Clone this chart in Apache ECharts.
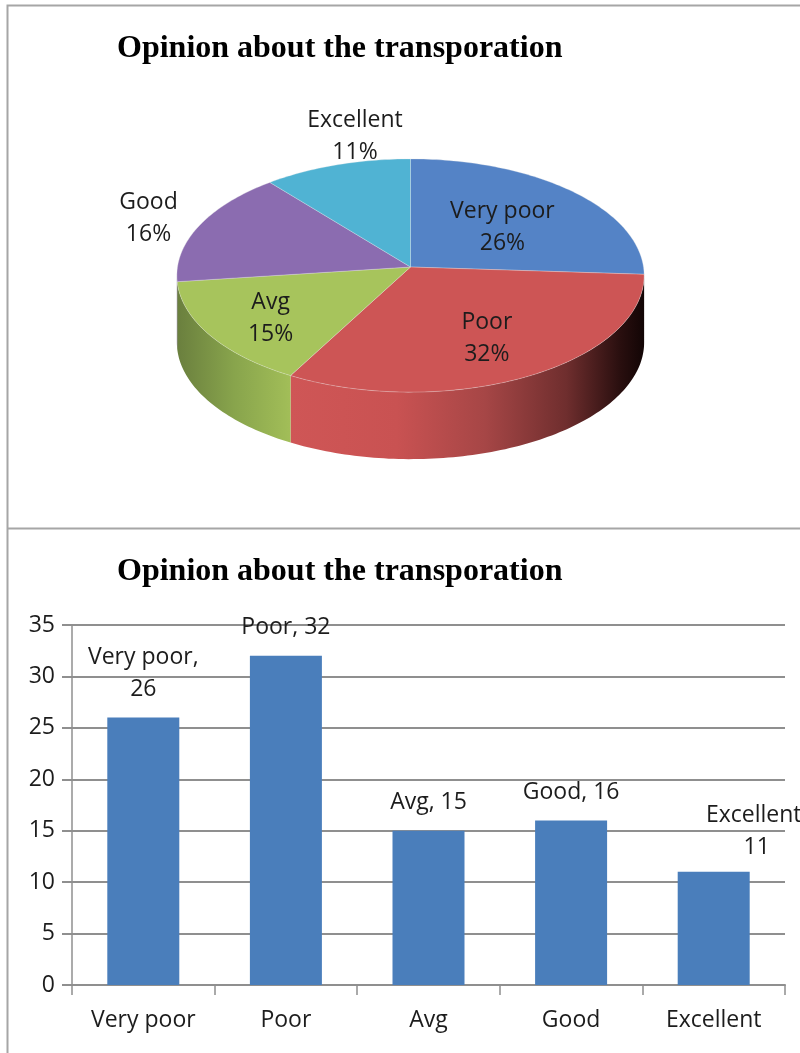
<!DOCTYPE html>
<html><head><meta charset="utf-8">
<style>html,body{margin:0;padding:0;background:#fff}#c{width:800px;height:1053px}</style>
<script src="https://cdn.jsdelivr.net/npm/echarts@6/dist/echarts.min.js"></script>
</head><body><div id="c"></div>
<script>
const titleText = 'Opinion about the transporation';
const categories = ['Very poor','Poor','Avg','Good','Excellent'];
const values = [26,32,15,16,11];
const yTicksMax = 35;
const yTickStep = 5;

const FONT = '"Open Sans"';
const TEXT = '#1c1c1c';
const topColors = ['#5483c6','#cd5555','#a7c45c','#8b6cb0','#50b3d3'];
const wallStops = [
  [[0,'#3a5a8a'],[1,'#3a5a8a']],
  [[0,'#cf5656'],[0.3,'#c95252'],[0.55,'#a64646'],[0.78,'#6f2e2e'],[0.93,'#2a0f0f'],[1,'#120505']],
  [[0,'#6a7f3e'],[0.5,'#88a44c'],[1,'#a2be58']],
  [[0,'#5a4672'],[1,'#5a4672']],
  [[0,'#357a90'],[1,'#357a90']]
];
const labelRadius = [0.55,0.66,0.70,1.24,1.20];
const labelNudge = [[1,3],[-1,1.5],[-1,4],[-2,3],[32,-10]];
const CX=410.5, CY=267, RX=233, RY=116, K=0.073, DEPTH=67;
const total = values.reduce((a,b)=>a+b,0);

function project(theta, r){
  const u=Math.sin(theta)*r, v=-Math.cos(theta)*r, d=1-K*v;
  return [CX+RX*u/d, CY+RY*v/d];
}
function arcPoints(a0,a1){
  const pts=[], n=Math.max(2,Math.ceil(Math.abs(a1-a0)/0.02));
  for(let i=0;i<=n;i++) pts.push(project(a0+(a1-a0)*i/n,1));
  return pts;
}
const LEFT_S=Math.PI+Math.acos(K), RIGHT_S=Math.PI-Math.acos(K);

function renderSlice(params, api){
  const i=params.dataIndex, val=api.value(1);
  let before=0; for(let j=0;j<i;j++) before+=values[j];
  const a0=before/total*2*Math.PI, a1=(before+val)/total*2*Math.PI;
  const children=[];
  const w0=Math.max(a0,RIGHT_S), w1=Math.min(a1,LEFT_S);
  if(w1>w0){
    const front=arcPoints(w0,w1);
    const back=front.map(p=>[p[0],p[1]+DEPTH]).reverse();
    children.push({type:'polygon',shape:{points:front.concat(back)},z2:1,
      style:{fill:new echarts.graphic.LinearGradient(0,0,1,0,wallStops[i].map(s=>({offset:s[0],color:s[1]}))),stroke:null}});
  }
  const pts=[[CX,CY]].concat(arcPoints(a0,a1));
  children.push({type:'polygon',shape:{points:pts},z2:2,
    style:{fill:topColors[i],stroke:'rgba(235,235,235,0.3)',lineWidth:1}});
  const mid=(a0+a1)/2, lp=project(mid,labelRadius[i]);
  children.push({type:'text',z2:5,x:lp[0]+labelNudge[i][0],y:lp[1]+labelNudge[i][1],
    style:{text:categories[i]+'\n'+Math.round(val/total*100)+'%',fill:TEXT,font:'23px '+FONT,
      align:'center',verticalAlign:'middle',lineHeight:32}});
  return {type:'group',children};
}

const wrapped=['Very poor','Excellent'];
const chart=echarts.init(document.getElementById('c'),null,{renderer:'canvas'});
chart.setOption({
  animation:false,
  backgroundColor:'#fff',
  graphic:[
    {type:'polyline',z:0,shape:{points:[[802,5.5],[7.5,5.5],[7.5,1054]]},style:{fill:null,stroke:'#a6a6a6',lineWidth:2}},
    {type:'line',z:0,shape:{x1:7,y1:528.5,x2:802,y2:528.5},style:{stroke:'#a6a6a6',lineWidth:2}}
  ],
  title:[
    {text:titleText,left:112,top:28,textStyle:{fontFamily:'"Liberation Serif"',fontWeight:'bold',fontSize:32,color:'#000'}},
    {text:titleText,left:112,top:551,textStyle:{fontFamily:'"Liberation Serif"',fontWeight:'bold',fontSize:32,color:'#000'}}
  ],
  grid:{left:72,right:15,top:625,bottom:68,containLabel:false},
  xAxis:{type:'category',data:categories,
    axisLine:{lineStyle:{color:'#8f8f8f',width:2}},
    axisTick:{show:true,length:10,alignWithLabel:false,lineStyle:{color:'#8f8f8f',width:1.5}},
    axisLabel:{interval:0,color:TEXT,fontFamily:FONT,fontSize:23,margin:24}},
  yAxis:{type:'value',min:0,max:yTicksMax,interval:yTickStep,
    axisLine:{show:true,lineStyle:{color:'#8f8f8f',width:1.5}},
    axisTick:{show:true,length:10,lineStyle:{color:'#8f8f8f',width:2}},
    splitLine:{show:true,lineStyle:{color:'#8f8f8f',width:2}},
    axisLabel:{color:TEXT,fontFamily:FONT,fontSize:23,margin:17}},
  series:[
    {type:'bar',barWidth:72,z:3,
      data:values.map((v,i)=>({value:v,label:categories[i]==='Excellent'?{offset:[43,4]}:{}})),
      itemStyle:{color:'#4a7ebb'},
      label:{show:true,position:'top',distance:12,color:TEXT,fontFamily:FONT,fontSize:23,lineHeight:32,
        formatter:p=>wrapped.includes(p.name)?p.name+',\n'+p.value:p.name+', '+p.value}},
    {type:'custom',coordinateSystem:'none',renderItem:renderSlice,clip:false,z:4,
      encode:{tooltip:1},
      data:values.map((v,i)=>[i,v])}
  ]
});
</script></body></html>
